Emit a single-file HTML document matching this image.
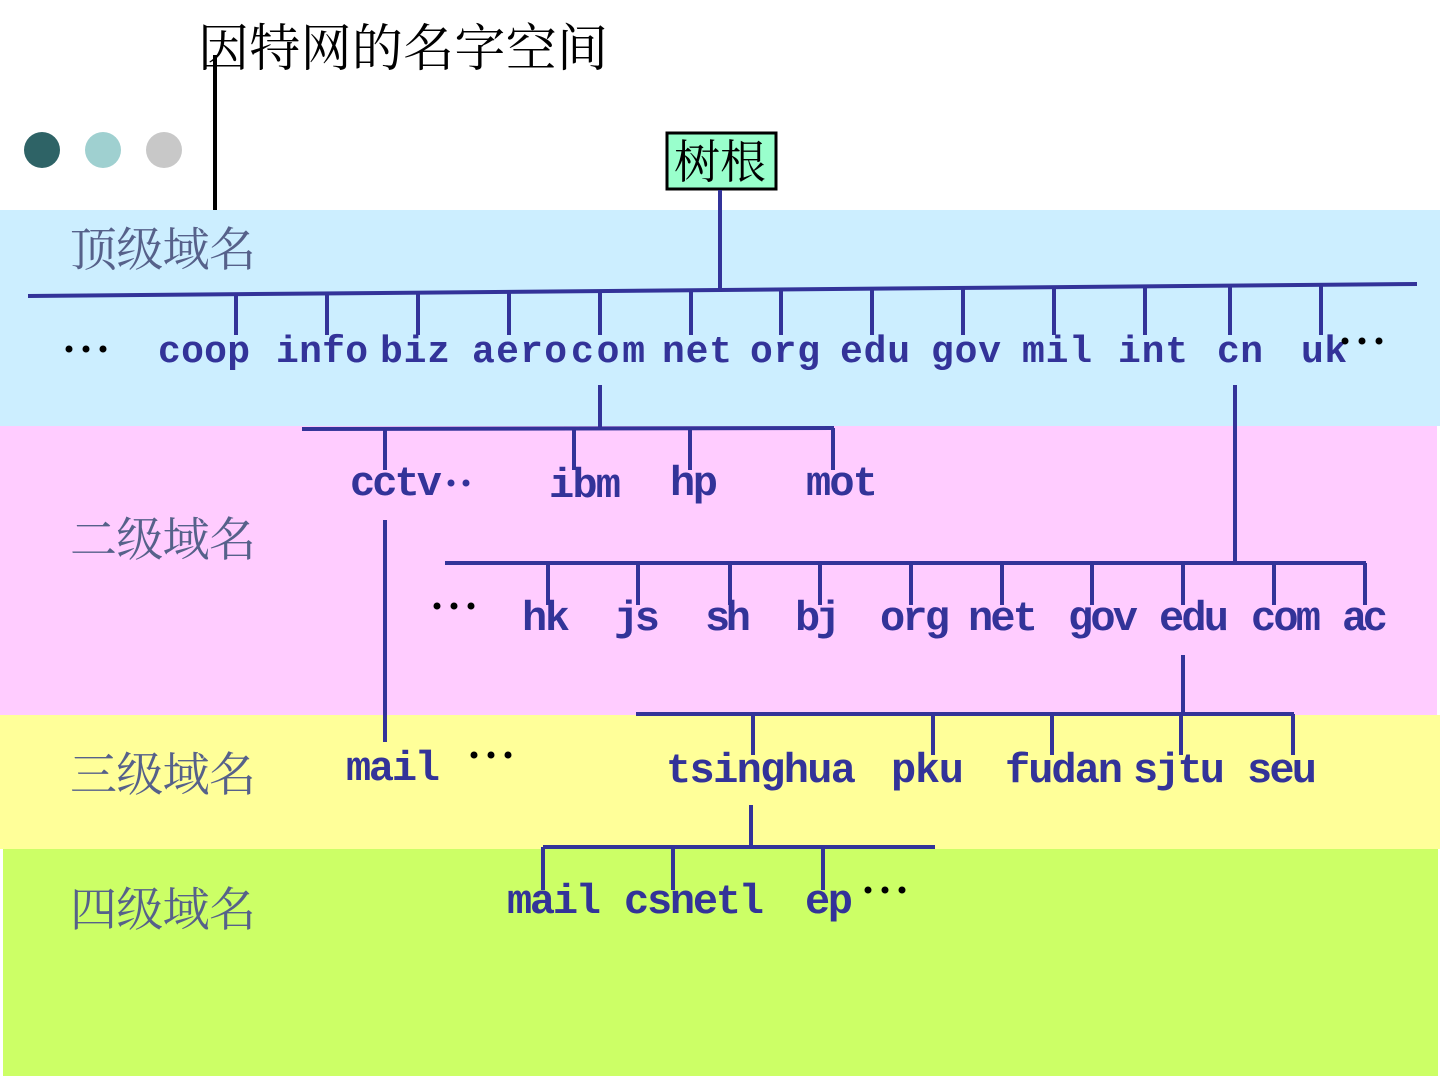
<!DOCTYPE html>
<html><head><meta charset="utf-8"><style>
html,body{margin:0;padding:0;background:#fff;}
svg{display:block;}
.t{font-family:"Liberation Mono",monospace;font-weight:bold;fill:#333399;}
.c{font-family:"Liberation Serif","Noto Serif CJK SC",serif;}
</style></head><body>
<svg width="1440" height="1080" xmlns="http://www.w3.org/2000/svg">
<rect x="0" y="210" width="1440" height="216" fill="#cceeff"/>
<rect x="0" y="426" width="1437" height="289" fill="#ffccff"/>
<rect x="0" y="715" width="1440" height="134" fill="#ffff99"/>
<rect x="3" y="849" width="1435" height="227" fill="#ccff66"/>
<text x="198" y="66" class="c" font-size="51" fill="#000" textLength="410">因特网的名字空间</text>
<line x1="215" y1="55" x2="215" y2="210" stroke="#000" stroke-width="4"/>
<circle cx="42" cy="150" r="18" fill="#2e6366"/>
<circle cx="103" cy="150" r="18" fill="#9fd0d0"/>
<circle cx="164" cy="150" r="18" fill="#c8c8c8"/>
<rect x="667" y="133" width="109" height="56" fill="#99ffcc" stroke="#000" stroke-width="3"/>
<text x="674" y="178" class="c" font-size="46" fill="#000">树根</text>
<g class="c" font-size="47" fill="#56618a">
<text x="70" y="266" textLength="186">顶级域名</text>
<text x="70" y="556" textLength="186">二级域名</text>
<text x="70" y="791" textLength="186">三级域名</text>
<text x="70" y="926" textLength="186">四级域名</text>
</g>
<g stroke="#333399" stroke-width="4" fill="none">
<line x1="720" y1="190" x2="720" y2="290"/>
<line x1="28" y1="296" x2="1417" y2="284"/>
<path d="M236 294V335M327 293V335M418 292V335M509 292V335M600 291V335M691 290V335M781 289V335M872 289V335M963 288V335M1054 287V335M1145 286V335M1230 286V335M1321 285V335"/>
<line x1="600" y1="385" x2="600" y2="429"/>
<line x1="302" y1="429" x2="834" y2="428"/>
<path d="M385 429V470M574 429V470M690 429V470M833 428V470"/>
<line x1="385" y1="520" x2="385" y2="742"/>
<line x1="1235" y1="385" x2="1235" y2="563"/>
<line x1="445" y1="563" x2="1366" y2="563"/>
<path d="M548 563V605M638 563V605M730 563V605M820 563V605M911 563V605M1002 563V605M1092 563V605M1183 563V605M1274 563V605M1365 563V605"/>
<line x1="1183" y1="655" x2="1183" y2="714"/>
<line x1="636" y1="714" x2="1294" y2="714"/>
<path d="M753 714V755M933 714V755M1052 714V755M1181 714V755M1293 714V755"/>
<line x1="751" y1="805" x2="751" y2="847"/>
<line x1="543" y1="847" x2="935" y2="847"/>
<path d="M543 847V890M673 847V890M823 847V890"/>
</g>
<g class="t" font-size="38">
<text x="158" y="362" textLength="92">coop</text>
<text x="276" y="362" textLength="92">info</text>
<text x="380" y="362" textLength="70">biz</text>
<text x="472" y="362" textLength="95">aero</text>
<text x="571" y="362" textLength="74">com</text>
<text x="662" y="362" textLength="70">net</text>
<text x="750" y="362" textLength="70">org</text>
<text x="840" y="362" textLength="70">edu</text>
<text x="931" y="362" textLength="70">gov</text>
<text x="1022" y="362" textLength="70">mil</text>
<text x="1118" y="362" textLength="70">int</text>
<text x="1217" y="362" textLength="46">cn</text>
<text x="1301" y="362" textLength="46">uk</text>
</g>
<g class="t" font-size="42">
<text x="350" y="495" textLength="92">cctv</text>
<text x="549" y="497" textLength="72">ibm</text>
<text x="670" y="495" textLength="48">hp</text>
<text x="806" y="495" textLength="72">mot</text>
<text x="522" y="630" textLength="48">hk</text>
<text x="614" y="630" textLength="46">js</text>
<text x="705" y="630" textLength="46">sh</text>
<text x="795" y="630" textLength="46">bj</text>
<text x="880" y="630" textLength="70">org</text>
<text x="968" y="630" textLength="70">net</text>
<text x="1068" y="630" textLength="70">gov</text>
<text x="1159" y="630" textLength="70">edu</text>
<text x="1251" y="630" textLength="70">com</text>
<text x="1342" y="630" textLength="46">ac</text>
<text x="346" y="780" textLength="94">mail</text>
<text x="666" y="782" textLength="190">tsinghua</text>
<text x="891" y="782" textLength="73">pku</text>
<text x="1005" y="782" textLength="118">fudan</text>
<text x="1133" y="782" textLength="92">sjtu</text>
<text x="1247" y="782" textLength="70">seu</text>
<text x="507" y="913" textLength="94">mail</text>
<text x="624" y="913" textLength="140">csnetl</text>
<text x="805" y="913" textLength="48">ep</text>
</g>
<g fill="#000">
<circle cx="69" cy="349" r="3.5"/><circle cx="86" cy="349" r="3.5"/><circle cx="103" cy="349" r="3.5"/>
<circle cx="1345" cy="341" r="3.5"/><circle cx="1362" cy="341" r="3.5"/><circle cx="1379" cy="341" r="3.5"/>
<circle cx="437" cy="606" r="3.5"/><circle cx="454" cy="606" r="3.5"/><circle cx="471" cy="606" r="3.5"/>
<circle cx="474" cy="755" r="3.5"/><circle cx="491" cy="755" r="3.5"/><circle cx="508" cy="755" r="3.5"/>
<circle cx="868" cy="890" r="3.5"/><circle cx="885" cy="890" r="3.5"/><circle cx="902" cy="890" r="3.5"/>
</g>
<g fill="#333399">
<circle cx="451" cy="483" r="3.5"/><circle cx="466" cy="483" r="3.5"/>
</g>
</svg>
</body></html>
